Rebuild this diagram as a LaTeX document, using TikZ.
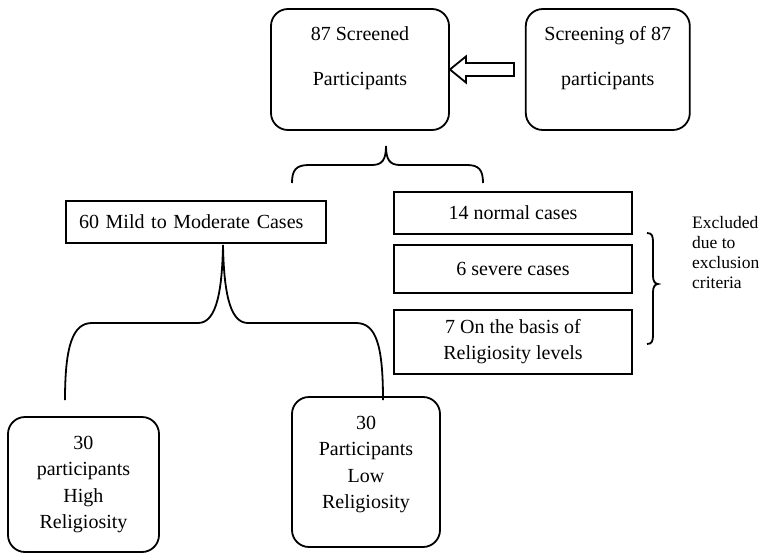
\documentclass[tikz,border=0pt]{standalone}
\usepackage{fontspec}
\setmainfont{Liberation Serif}
\usetikzlibrary{positioning}

\begin{document}
\begin{tikzpicture}[
  x=1pt,y=-1pt,
  node distance=9pt,
  every node/.style={font=\fontsize{20}{26.5}\selectfont},
  rbox/.style={draw,rounded corners=17pt,align=center,line width=1.8pt},
  cbox/.style={draw,align=center,line width=1.8pt,minimum width=238pt},
  brace/.style={line width=1.8pt}
]
\useasboundingbox (0,0) rectangle (761,554);
\node[rbox,minimum width=178pt,minimum height=121pt] (screened) at (360,69.5)
  {87 Screened\\[18.5pt]Participants\\~};
\node[rbox,minimum width=164pt,minimum height=121pt,right=75pt of screened] (screening)
  {Screening of 87\\[18.5pt]participants\\~};
\draw[line width=1.8pt] (screened.east) -- ++(16,-13) -- ++(0,6.5) -- ++(48,0)
  -- ++(0,13) -- ++(-48,0) -- ++(0,6.5) -- cycle;

\node[draw,line width=1.8pt,text width=234pt,inner xsep=13pt,minimum height=42pt,
  align=left] (mild) at (196,222) {60 Mild to Moderate Cases};
\node[cbox,minimum height=42pt] (normal) at (513,213) {14 normal cases};
\node[cbox,minimum height=48pt,below=9pt of normal] (severe) {6 severe cases};
\node[cbox,minimum height=64pt,below=15pt of severe] (basis)
  {7 On the basis of\\Religiosity levels};

\node[rbox,minimum width=151pt,minimum height=135pt] (high) at (83.5,484.5)
  {30\\participants\\High\\Religiosity};
\node[rbox,minimum width=148pt,minimum height=150pt] (low) at (366,472)
  {30\\Participants\\Low\\Religiosity\\[-7pt]~};

% braces
\coordinate (mildtop) at (292,183);
\coordinate (normtop) at (483,183);
\draw[brace] (mildtop) .. controls (292,170) and (296,165) .. (309,165) -- (372,165)
  .. controls (382,165) and (386,160) .. (386,146)
  .. controls (386,160) and (390,165) .. (400,165) -- (467,165)
  .. controls (479,165) and (483,170) .. (normtop);

\coordinate (split) at (223,245);
\coordinate (hightop) at (65,400);
\coordinate (lowtop) at (383,400);
\draw[brace] (hightop) .. controls (65,345) and (73,323) .. (92,323) -- (198,323)
  .. controls (214,323) and (222,300) .. (split)
  .. controls (224,300) and (232,323) .. (248,323) -- (356,323)
  .. controls (376,323) and (383,345) .. (lowtop);

\coordinate (exclcusp) at (658,284);
\draw[brace] (647,233) .. controls (652,233) and (653,236) .. (653,242) -- (653,276)
  .. controls (653,281) and (655,284) .. (exclcusp)
  .. controls (655,284) and (653,287) .. (653,292) -- (653,335)
  .. controls (653,341) and (652,344) .. (647,344);
\node[anchor=west,align=left,inner xsep=2pt,font=\fontsize{17.5}{20}\selectfont] (excl)
  at (690,253) {Excluded\\due to\\exclusion\\criteria};
\end{tikzpicture}
\end{document}
